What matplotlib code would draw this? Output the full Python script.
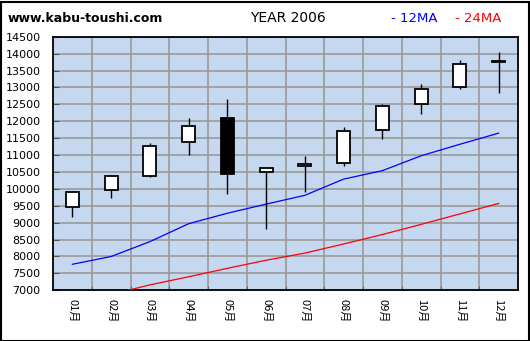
import numpy as np
import matplotlib
matplotlib.use("Agg")
import matplotlib.pyplot as plt
from matplotlib.patches import Rectangle

# monthly candles, 2006
months = ["01月", "02月", "03月", "04月", "05月", "06月",
          "07月", "08月", "09月", "10月", "11月", "12月"]
opens = [9450, 9980, 10390, 11380, 12100, 10510, 10690, 10770, 11750, 12520, 13010, 13760]
highs = [9940, 10410, 11360, 12100, 12670, 10630, 10970, 11820, 12500, 13090, 13800, 14040]
lows = [9180, 9740, 10350, 11000, 9840, 8820, 9900, 10670, 11480, 12210, 12950, 12840]
closes = [9900, 10370, 11260, 11850, 10430, 10620, 10750, 11720, 12460, 12960, 13700, 13780]

# moving averages
ma12 = [7770, 8000, 8440, 8970, 9280, 9550, 9810, 10290, 10540, 10980, 11320, 11650]
ma24 = [np.nan, 6880, 7160, 7400, 7650, 7890, 8100, 8370, 8650, 8950, 9260, 9570]

y_ticks = list(range(7000, 14501, 500))

W, H = 530, 341
fig = plt.figure(figsize=(W / 100, H / 100), dpi=100)
fig.patch.set_facecolor("white")

ax = fig.add_axes([53 / W, (H - 290.3) / H, 465 / W, 253.5 / H])
ax.set_facecolor("#C6D8F0")

x = np.arange(len(months))
body_w = 0.335

# moving average lines
ax.plot(x, ma12, color="blue", lw=0.9, zorder=3)
ax.plot(x, ma24, color="red", lw=0.9, zorder=3)

# candlesticks
for i in range(len(months)):
    o, h, l, c = opens[i], highs[i], lows[i], closes[i]
    ax.vlines(i, l, h, color="black", lw=1.0, zorder=4)
    face = "white" if c >= o else "black"
    bottom = min(o, c)
    ax.add_patch(Rectangle((i - body_w / 2, bottom), body_w, abs(c - o),
                           facecolor=face, edgecolor="black", lw=1.3, zorder=5))

ax.set_xlim(-0.5, len(months) - 0.5)
ax.set_ylim(7000, 14500)

# grid lines on category boundaries
ax.set_xticks(x)
ax.set_xticklabels(months, rotation=-90, fontsize=8,
                   family=["Noto Sans CJK JP", "DejaVu Sans"])
ax.set_xticks(np.arange(0.5, len(months) - 0.5, 1), minor=True)
ax.tick_params(axis="x", which="major", length=0, pad=6)
ax.tick_params(axis="x", which="minor", direction="in", length=3, color="#555555")
ax.grid(True, which="minor", axis="x", color="#999999", lw=1.2)

ax.set_yticks(y_ticks)
ax.set_yticklabels([str(v) for v in y_ticks], fontsize=8)
ax.tick_params(axis="y", direction="in", length=4, pad=9, color="#555555")
ax.grid(True, which="major", axis="y", color="#999999", lw=1.2)
ax.set_axisbelow(True)

for s in ax.spines.values():
    s.set_color("black")
    s.set_linewidth(1.3)

# header texts
fig.text(8 / W, 1 - 18 / H, "www.kabu-toushi.com", fontsize=9, fontweight="bold",
         ha="left", va="center")
fig.text(288 / W, 1 - 18 / H, "YEAR 2006", fontsize=10, ha="center", va="center")
fig.text(391 / W, 1 - 18 / H, "- 12MA", fontsize=9.5, color="blue", ha="left", va="center")
fig.text(455 / W, 1 - 18 / H, "- 24MA", fontsize=9.5, color="red", ha="left", va="center")

# outer frame
fig.patches.append(Rectangle((0.5 / W, 0.5 / H), (W - 2) / W, (H - 2) / H,
                             transform=fig.transFigure, fill=False,
                             edgecolor="black", lw=1.5))

fig.savefig("out.png", dpi=100)
